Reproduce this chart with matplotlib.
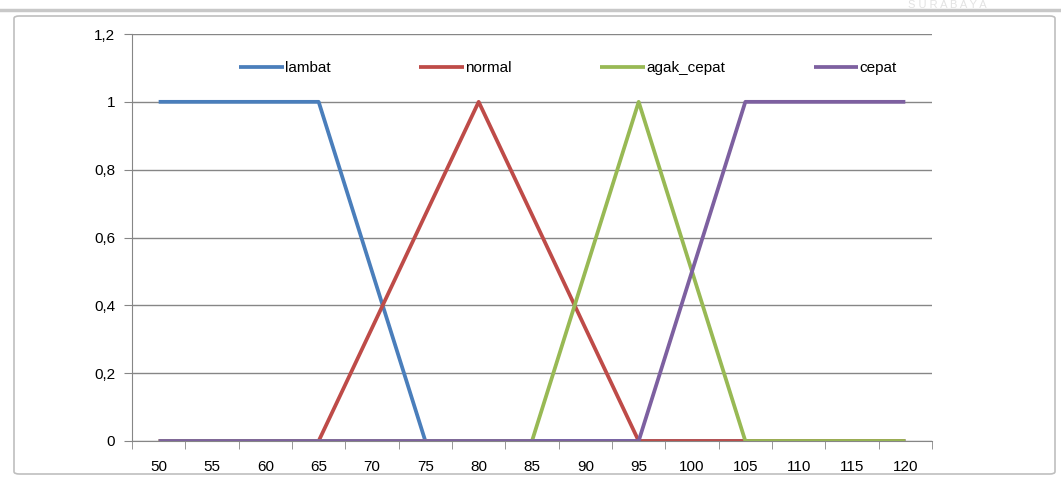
import numpy as np
import matplotlib.pyplot as plt
from matplotlib.patches import FancyBboxPatch
from matplotlib.lines import Line2D

plt.rcParams['font.family'] = ['Liberation Sans', 'DejaVu Sans']

# data
kecepatan = [50, 55, 60, 65, 70, 75, 80, 85, 90, 95, 100, 105, 110, 115, 120]
lambat = [1, 1, 1, 1, 0.5, 0, 0, 0, 0, 0, 0, 0, 0, 0, 0]
normal = [0, 0, 0, 0, 0.333, 0.667, 1, 0.667, 0.333, 0, 0, 0, 0, 0, 0]
agak_cepat = [0, 0, 0, 0, 0, 0, 0, 0, 0.5, 1, 0.5, 0, 0, 0, 0]
cepat = [0, 0, 0, 0, 0, 0, 0, 0, 0, 0, 0.5, 1, 1, 1, 1]

series = [('lambat', lambat, '#4A7EBB'),
          ('normal', normal, '#BE4B48'),
          ('agak_cepat', agak_cepat, '#98B954'),
          ('cepat', cepat, '#7D60A0')]

fig = plt.figure(figsize=(10.61, 4.8), dpi=100)

# outer chart frame and the page line above it
frame = FancyBboxPatch((14 / 1061, 6 / 480), 1041 / 1061, 458 / 480,
                       boxstyle='round,pad=0,rounding_size=0.005',
                       transform=fig.transFigure, fill=False,
                       edgecolor='#BFBFBF', linewidth=1.2)
fig.patches.append(frame)
fig.lines.append(Line2D([0, 1], [1 - 10 / 480, 1 - 10 / 480],
                        transform=fig.transFigure, color='#C8C8C8', lw=2.5))
# faint watermark at the top edge
fig.text(0.93, 0.999, 'S U R A B A Y A', fontsize=8, color='#E3E3E3',
         ha='right', va='top')

ax = fig.add_axes([132 / 1061, 1 - 441 / 480, 800 / 1061, 407 / 480])
x = np.arange(len(kecepatan))
for name, vals, col in series:
    ax.plot(x, vals, color=col, lw=2.7, label=name, solid_capstyle='butt')

ax.set_xlim(-0.5, len(kecepatan) - 0.5)
ax.set_ylim(0, 1.2)

ax.set_xticks(x)
ax.set_xticklabels([str(k) for k in kecepatan])
ax.set_xticks(np.arange(-0.5, len(kecepatan)), minor=True)
ax.tick_params(axis='x', which='major', length=0, pad=14, labelsize=11)
ax.tick_params(axis='x', which='minor', length=6, color='#868686',
               direction='out')

yt = [0, 0.2, 0.4, 0.6, 0.8, 1, 1.2]
ax.set_yticks(yt)
ax.set_yticklabels(['0', '0,2', '0,4', '0,6', '0,8', '1', '1,2'])
ax.tick_params(axis='y', length=6, color='#868686', direction='out',
               pad=6, labelsize=11)

ax.yaxis.grid(True, color='#868686', lw=1)
ax.set_axisbelow(True)
for s in ['top', 'right']:
    ax.spines[s].set_visible(False)
for s in ['left', 'bottom']:
    ax.spines[s].set_color('#868686')

ax.legend(loc='center', bbox_to_anchor=(0.545, 0.916), ncol=4,
          frameon=False, fontsize=11, handlelength=2.9,
          handletextpad=0.1, columnspacing=5.8)

plt.savefig('out.png', dpi=100)
